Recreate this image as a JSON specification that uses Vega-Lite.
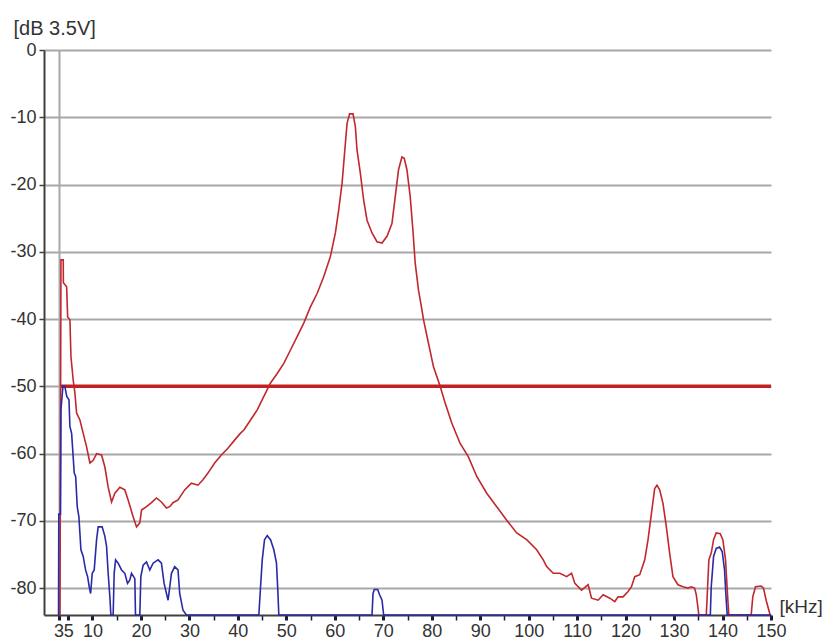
{
  "$schema": "https://vega.github.io/schema/vega-lite/v6.json",
  "autosize": "none",
  "width": 727,
  "height": 565,
  "padding": {"left": 44, "top": 50, "right": 54, "bottom": 28},
  "background": "white",
  "config": {"view": {"stroke": null}, "font": "Liberation Sans"},
  "datasets": {
    "spectrum": [
      {"series": "red", "kHz": 3.3, "dB": -84},
      {"series": "red", "kHz": 3.5, "dB": -31.2},
      {"series": "red", "kHz": 3.97, "dB": -31.2},
      {"series": "red", "kHz": 4.0, "dB": -34.6},
      {"series": "red", "kHz": 4.67, "dB": -35.2},
      {"series": "red", "kHz": 4.88, "dB": -39.7},
      {"series": "red", "kHz": 5.35, "dB": -40.1},
      {"series": "red", "kHz": 5.56, "dB": -45.6},
      {"series": "red", "kHz": 6.03, "dB": -49.1},
      {"series": "red", "kHz": 6.38, "dB": -51},
      {"series": "red", "kHz": 6.73, "dB": -54},
      {"series": "red", "kHz": 7.41, "dB": -55},
      {"series": "red", "kHz": 8.09, "dB": -57},
      {"series": "red", "kHz": 8.79, "dB": -59},
      {"series": "red", "kHz": 9.47, "dB": -61.4},
      {"series": "red", "kHz": 10.15, "dB": -61},
      {"series": "red", "kHz": 10.85, "dB": -60},
      {"series": "red", "kHz": 11.88, "dB": -60.2},
      {"series": "red", "kHz": 12.56, "dB": -62},
      {"series": "red", "kHz": 13.24, "dB": -65},
      {"series": "red", "kHz": 13.94, "dB": -67.2},
      {"series": "red", "kHz": 14.62, "dB": -65.9},
      {"series": "red", "kHz": 15.65, "dB": -65},
      {"series": "red", "kHz": 16.68, "dB": -65.4},
      {"series": "red", "kHz": 17.36, "dB": -66.9},
      {"series": "red", "kHz": 18.39, "dB": -69.4},
      {"series": "red", "kHz": 19.09, "dB": -70.9},
      {"series": "red", "kHz": 19.77, "dB": -70.3},
      {"series": "red", "kHz": 20.12, "dB": -68.4},
      {"series": "red", "kHz": 21.15, "dB": -67.9},
      {"series": "red", "kHz": 22.17, "dB": -67.3},
      {"series": "red", "kHz": 23.2, "dB": -66.6},
      {"series": "red", "kHz": 24.23, "dB": -67.2},
      {"series": "red", "kHz": 25.26, "dB": -68.1},
      {"series": "red", "kHz": 25.94, "dB": -67.9},
      {"series": "red", "kHz": 26.62, "dB": -67.3},
      {"series": "red", "kHz": 27.65, "dB": -66.9},
      {"series": "red", "kHz": 29.03, "dB": -65.4},
      {"series": "red", "kHz": 30.41, "dB": -64.4},
      {"series": "red", "kHz": 31.77, "dB": -64.7},
      {"series": "red", "kHz": 32.8, "dB": -63.9},
      {"series": "red", "kHz": 33.83, "dB": -62.9},
      {"series": "red", "kHz": 35.21, "dB": -61.4},
      {"series": "red", "kHz": 36.59, "dB": -60.2},
      {"series": "red", "kHz": 37.95, "dB": -59.2},
      {"series": "red", "kHz": 39.32, "dB": -58},
      {"series": "red", "kHz": 40.5, "dB": -57},
      {"series": "red", "kHz": 41.24, "dB": -56.5},
      {"series": "red", "kHz": 42.62, "dB": -55},
      {"series": "red", "kHz": 44.0, "dB": -53.5},
      {"series": "red", "kHz": 45.36, "dB": -51.5},
      {"series": "red", "kHz": 46.74, "dB": -49.5},
      {"series": "red", "kHz": 48.12, "dB": -48.1},
      {"series": "red", "kHz": 49.48, "dB": -46.6},
      {"series": "red", "kHz": 50.85, "dB": -44.6},
      {"series": "red", "kHz": 52.23, "dB": -42.6},
      {"series": "red", "kHz": 53.59, "dB": -40.6},
      {"series": "red", "kHz": 54.97, "dB": -38.2},
      {"series": "red", "kHz": 56.35, "dB": -36.2},
      {"series": "red", "kHz": 57.71, "dB": -33.7},
      {"series": "red", "kHz": 59.09, "dB": -30.7},
      {"series": "red", "kHz": 60.12, "dB": -27.2},
      {"series": "red", "kHz": 60.8, "dB": -23.8},
      {"series": "red", "kHz": 61.5, "dB": -19.8},
      {"series": "red", "kHz": 62.18, "dB": -13.9},
      {"series": "red", "kHz": 62.53, "dB": -10.9},
      {"series": "red", "kHz": 63.06, "dB": -9.5},
      {"series": "red", "kHz": 63.76, "dB": -9.5},
      {"series": "red", "kHz": 64.24, "dB": -11.4},
      {"series": "red", "kHz": 64.59, "dB": -14.9},
      {"series": "red", "kHz": 65.27, "dB": -18.3},
      {"series": "red", "kHz": 65.95, "dB": -22.3},
      {"series": "red", "kHz": 66.65, "dB": -25.3},
      {"series": "red", "kHz": 67.68, "dB": -27.2},
      {"series": "red", "kHz": 68.71, "dB": -28.5},
      {"series": "red", "kHz": 69.74, "dB": -28.7},
      {"series": "red", "kHz": 70.77, "dB": -27.7},
      {"series": "red", "kHz": 71.79, "dB": -25.8},
      {"series": "red", "kHz": 72.47, "dB": -21.8},
      {"series": "red", "kHz": 73.15, "dB": -17.8},
      {"series": "red", "kHz": 73.85, "dB": -15.9},
      {"series": "red", "kHz": 74.33, "dB": -16.1},
      {"series": "red", "kHz": 74.88, "dB": -17.8},
      {"series": "red", "kHz": 75.56, "dB": -21.8},
      {"series": "red", "kHz": 76.12, "dB": -26.8},
      {"series": "red", "kHz": 76.59, "dB": -31.7},
      {"series": "red", "kHz": 77.27, "dB": -35.7},
      {"series": "red", "kHz": 77.97, "dB": -38.6},
      {"series": "red", "kHz": 78.3, "dB": -40.1},
      {"series": "red", "kHz": 79.33, "dB": -43.6},
      {"series": "red", "kHz": 80.36, "dB": -47.1},
      {"series": "red", "kHz": 81.74, "dB": -50.0},
      {"series": "red", "kHz": 82.77, "dB": -52.5},
      {"series": "red", "kHz": 84.15, "dB": -55.5},
      {"series": "red", "kHz": 85.86, "dB": -58.5},
      {"series": "red", "kHz": 87.57, "dB": -60.5},
      {"series": "red", "kHz": 89.29, "dB": -63.4},
      {"series": "red", "kHz": 91.35, "dB": -65.9},
      {"series": "red", "kHz": 93.41, "dB": -67.9},
      {"series": "red", "kHz": 95.47, "dB": -69.9},
      {"series": "red", "kHz": 97.53, "dB": -71.8},
      {"series": "red", "kHz": 99.59, "dB": -72.8},
      {"series": "red", "kHz": 101.65, "dB": -74.3},
      {"series": "red", "kHz": 103.01, "dB": -75.8},
      {"series": "red", "kHz": 103.71, "dB": -76.8},
      {"series": "red", "kHz": 105.07, "dB": -77.8},
      {"series": "red", "kHz": 106.45, "dB": -77.8},
      {"series": "red", "kHz": 107.83, "dB": -78.3},
      {"series": "red", "kHz": 108.85, "dB": -77.8},
      {"series": "red", "kHz": 109.53, "dB": -79.3},
      {"series": "red", "kHz": 110.91, "dB": -80.3},
      {"series": "red", "kHz": 112.27, "dB": -79.5},
      {"series": "red", "kHz": 112.97, "dB": -81.5},
      {"series": "red", "kHz": 114.33, "dB": -81.8},
      {"series": "red", "kHz": 115.36, "dB": -81},
      {"series": "red", "kHz": 116.74, "dB": -81.5},
      {"series": "red", "kHz": 117.77, "dB": -82},
      {"series": "red", "kHz": 118.45, "dB": -81.3},
      {"series": "red", "kHz": 119.48, "dB": -81.3},
      {"series": "red", "kHz": 120.51, "dB": -80.5},
      {"series": "red", "kHz": 121.21, "dB": -79.8},
      {"series": "red", "kHz": 121.89, "dB": -78.3},
      {"series": "red", "kHz": 122.92, "dB": -78},
      {"series": "red", "kHz": 123.95, "dB": -75.8},
      {"series": "red", "kHz": 124.63, "dB": -72.8},
      {"series": "red", "kHz": 125.33, "dB": -68.9},
      {"series": "red", "kHz": 126.0, "dB": -65.2},
      {"series": "red", "kHz": 126.48, "dB": -64.7},
      {"series": "red", "kHz": 127.03, "dB": -65.4},
      {"series": "red", "kHz": 127.71, "dB": -67.4},
      {"series": "red", "kHz": 128.41, "dB": -70.9},
      {"series": "red", "kHz": 129.09, "dB": -74.8},
      {"series": "red", "kHz": 129.77, "dB": -78.3},
      {"series": "red", "kHz": 130.8, "dB": -79.5},
      {"series": "red", "kHz": 131.83, "dB": -79.8},
      {"series": "red", "kHz": 132.86, "dB": -80},
      {"series": "red", "kHz": 133.56, "dB": -79.8},
      {"series": "red", "kHz": 134.24, "dB": -80},
      {"series": "red", "kHz": 134.59, "dB": -81},
      {"series": "red", "kHz": 135.12, "dB": -84},
      {"series": "red", "kHz": 136.65, "dB": -84},
      {"series": "red", "kHz": 137.18, "dB": -75.8},
      {"series": "red", "kHz": 137.67, "dB": -74.8},
      {"series": "red", "kHz": 138.15, "dB": -72.8},
      {"series": "red", "kHz": 138.7, "dB": -71.8},
      {"series": "red", "kHz": 139.53, "dB": -71.9},
      {"series": "red", "kHz": 140.06, "dB": -72.8},
      {"series": "red", "kHz": 140.62, "dB": -75.8},
      {"series": "red", "kHz": 141.1, "dB": -81.8},
      {"series": "red", "kHz": 141.3, "dB": -84},
      {"series": "red", "kHz": 145.91, "dB": -84},
      {"series": "red", "kHz": 146.24, "dB": -81.3},
      {"series": "red", "kHz": 146.8, "dB": -79.8},
      {"series": "red", "kHz": 147.97, "dB": -79.7},
      {"series": "red", "kHz": 148.45, "dB": -80},
      {"series": "red", "kHz": 149.0, "dB": -81.8},
      {"series": "red", "kHz": 149.82, "dB": -84},

      {"series": "threshold", "kHz": 3.5, "dB": -50},
      {"series": "threshold", "kHz": 150, "dB": -50},

      {"series": "blue", "kHz": 3.0, "dB": -84},
      {"series": "blue", "kHz": 3.05, "dB": -69},
      {"series": "blue", "kHz": 3.4, "dB": -69},
      {"series": "blue", "kHz": 3.5, "dB": -53.5},
      {"series": "blue", "kHz": 3.9, "dB": -50},
      {"series": "blue", "kHz": 4.3, "dB": -50},
      {"series": "blue", "kHz": 4.7, "dB": -51.5},
      {"series": "blue", "kHz": 5.15, "dB": -52},
      {"series": "blue", "kHz": 5.35, "dB": -56},
      {"series": "blue", "kHz": 5.7, "dB": -57},
      {"series": "blue", "kHz": 6.24, "dB": -62.9},
      {"series": "blue", "kHz": 6.53, "dB": -63.4},
      {"series": "blue", "kHz": 6.86, "dB": -67.9},
      {"series": "blue", "kHz": 7.2, "dB": -69.4},
      {"series": "blue", "kHz": 7.62, "dB": -74.3},
      {"series": "blue", "kHz": 8.09, "dB": -75.3},
      {"series": "blue", "kHz": 8.58, "dB": -77.3},
      {"series": "blue", "kHz": 9.0, "dB": -78.3},
      {"series": "blue", "kHz": 9.33, "dB": -79.8},
      {"series": "blue", "kHz": 9.62, "dB": -80.8},
      {"series": "blue", "kHz": 9.95, "dB": -77.8},
      {"series": "blue", "kHz": 10.36, "dB": -77.3},
      {"series": "blue", "kHz": 10.85, "dB": -72.8},
      {"series": "blue", "kHz": 11.18, "dB": -70.9},
      {"series": "blue", "kHz": 12.0, "dB": -70.9},
      {"series": "blue", "kHz": 12.56, "dB": -72.3},
      {"series": "blue", "kHz": 12.91, "dB": -73.8},
      {"series": "blue", "kHz": 13.24, "dB": -77.8},
      {"series": "blue", "kHz": 13.59, "dB": -81.3},
      {"series": "blue", "kHz": 13.8, "dB": -84},
      {"series": "blue", "kHz": 14.27, "dB": -84},
      {"series": "blue", "kHz": 14.48, "dB": -77.8},
      {"series": "blue", "kHz": 14.77, "dB": -75.8},
      {"series": "blue", "kHz": 15.3, "dB": -76.3},
      {"series": "blue", "kHz": 16.0, "dB": -77.3},
      {"series": "blue", "kHz": 16.68, "dB": -77.8},
      {"series": "blue", "kHz": 17.23, "dB": -79.3},
      {"series": "blue", "kHz": 17.71, "dB": -78.8},
      {"series": "blue", "kHz": 18.06, "dB": -77.8},
      {"series": "blue", "kHz": 18.74, "dB": -78.6},
      {"series": "blue", "kHz": 18.88, "dB": -84},
      {"series": "blue", "kHz": 19.77, "dB": -84},
      {"series": "blue", "kHz": 19.98, "dB": -78.3},
      {"series": "blue", "kHz": 20.45, "dB": -76.6},
      {"series": "blue", "kHz": 21.15, "dB": -76.1},
      {"series": "blue", "kHz": 21.83, "dB": -77.3},
      {"series": "blue", "kHz": 22.51, "dB": -76.3},
      {"series": "blue", "kHz": 23.54, "dB": -75.8},
      {"series": "blue", "kHz": 24.23, "dB": -76.3},
      {"series": "blue", "kHz": 24.78, "dB": -79.3},
      {"series": "blue", "kHz": 25.6, "dB": -81.8},
      {"series": "blue", "kHz": 26.3, "dB": -77.8},
      {"series": "blue", "kHz": 26.97, "dB": -76.8},
      {"series": "blue", "kHz": 27.65, "dB": -77.3},
      {"series": "blue", "kHz": 28.0, "dB": -80.8},
      {"series": "blue", "kHz": 28.68, "dB": -83.3},
      {"series": "blue", "kHz": 29.38, "dB": -84},
      {"series": "blue", "kHz": 44.33, "dB": -84},
      {"series": "blue", "kHz": 44.68, "dB": -79.8},
      {"series": "blue", "kHz": 45.03, "dB": -75.8},
      {"series": "blue", "kHz": 45.5, "dB": -72.8},
      {"series": "blue", "kHz": 46.06, "dB": -72.2},
      {"series": "blue", "kHz": 46.74, "dB": -72.8},
      {"series": "blue", "kHz": 47.42, "dB": -74.3},
      {"series": "blue", "kHz": 47.97, "dB": -76.3},
      {"series": "blue", "kHz": 48.24, "dB": -80.3},
      {"series": "blue", "kHz": 48.45, "dB": -84},
      {"series": "blue", "kHz": 67.68, "dB": -84},
      {"series": "blue", "kHz": 67.89, "dB": -80.8},
      {"series": "blue", "kHz": 68.15, "dB": -80.2},
      {"series": "blue", "kHz": 68.84, "dB": -80.2},
      {"series": "blue", "kHz": 69.25, "dB": -81},
      {"series": "blue", "kHz": 69.74, "dB": -81.8},
      {"series": "blue", "kHz": 70.08, "dB": -84},
      {"series": "blue", "kHz": 137.48, "dB": -84},
      {"series": "blue", "kHz": 137.67, "dB": -79.8},
      {"series": "blue", "kHz": 138.15, "dB": -75.3},
      {"series": "blue", "kHz": 138.7, "dB": -74.1},
      {"series": "blue", "kHz": 139.39, "dB": -73.9},
      {"series": "blue", "kHz": 139.94, "dB": -74.6},
      {"series": "blue", "kHz": 140.41, "dB": -77.3},
      {"series": "blue", "kHz": 140.76, "dB": -81.8},
      {"series": "blue", "kHz": 140.97, "dB": -84},
      {"series": "blue", "kHz": 150, "dB": -84}
    ]
  },
  "data": {"name": "spectrum"},
  "encoding": {
    "x": {
      "field": "kHz",
      "type": "quantitative",
      "scale": {"domain": [0, 150], "nice": false, "zero": false},
      "axis": {
        "values": [3, 5, 10, 15, 20, 25, 30, 35, 40, 45, 50, 55, 60, 65, 70, 75, 80, 85, 90, 95, 100, 105, 110, 115, 120, 125, 130, 135, 140, 145, 150],
        "labelExpr": "(datum.value % 10 == 0 || datum.value < 6) ? datum.label : ''",
        "labelOverlap": false,
        "labelFlush": false,
        "labelFont": "Liberation Sans",
        "labelFontSize": 18,
        "labelColor": "#333333",
        "labelPadding": 2,
        "tickSize": 5,
        "tickColor": "#1a1a40",
        "tickWidth": {"condition": {"test": "datum.value % 10 == 0 || datum.value < 6", "value": 3}, "value": 1.5},
        "domainColor": "#404040",
        "domainWidth": 2,
        "grid": true,
        "gridColor": "#a8a8a8",
        "gridWidth": 2,
        "gridOpacity": {"condition": {"test": "datum.value == 3", "value": 1}, "value": 0},
        "title": "[kHz]",
        "titleFont": "Liberation Sans",
        "titleFontSize": 19,
        "titleFontWeight": "normal",
        "titleColor": "#333333",
        "titleAlign": "left",
        "titleBaseline": "alphabetic",
        "titleX": 735,
        "titleY": -3
      }
    },
    "y": {
      "field": "dB",
      "type": "quantitative",
      "scale": {"domain": [-84, 0], "nice": false, "zero": false},
      "axis": {
        "values": [0, -10, -20, -30, -40, -50, -60, -70, -80],
        "labelExpr": "datum.value == 0 ? '0' : '-' + abs(datum.value)",
        "labelFont": "Liberation Sans",
        "labelFontSize": 18,
        "labelColor": "#333333",
        "labelPadding": 3,
        "tickSize": 5,
        "tickColor": "#404040",
        "tickWidth": 1.5,
        "domainColor": "#404040",
        "domainWidth": 2,
        "grid": true,
        "gridColor": "#a8a8a8",
        "gridWidth": 2,
        "title": "[dB 3.5V]",
        "titleFont": "Liberation Sans",
        "titleFontSize": 20,
        "titleFontWeight": "normal",
        "titleColor": "#333333",
        "titleAngle": 0,
        "titleAlign": "left",
        "titleBaseline": "alphabetic",
        "titleX": -31,
        "titleY": -16
      }
    }
  },
  "layer": [
    {
      "transform": [{"filter": "datum.series == 'red'"}],
      "mark": {"type": "line", "color": "#c0282d", "strokeWidth": 1.6}
    },
    {
      "transform": [{"filter": "datum.series == 'threshold'"}],
      "mark": {"type": "line", "color": "#c42020", "strokeWidth": 3.5}
    },
    {
      "transform": [{"filter": "datum.series == 'blue'"}],
      "mark": {"type": "line", "color": "#2a2aa8", "strokeWidth": 1.6}
    }
  ]
}
